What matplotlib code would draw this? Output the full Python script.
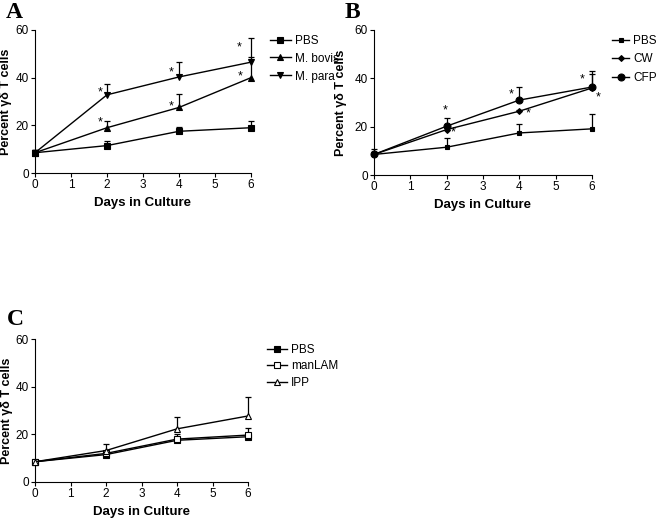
import matplotlib
matplotlib.use("Agg")
from matplotlib import pyplot as plt

plt.rcParams['font.family'] = ['Liberation Sans', 'DejaVu Sans']

days = [0, 2, 4, 6]

# panel A
a_pbs = [8.5, 11.5, 17.5, 19.0]
a_pbs_top = [9.5, 13.5, 19.3, 22.0]
a_bovis = [8.5, 19.0, 27.5, 40.0]
a_bovis_top = [9.5, 22.0, 33.0, 48.5]
a_para = [8.5, 32.8, 40.3, 46.5]
a_para_top = [9.5, 37.2, 46.7, 56.5]
a_star_x = [1.8, 1.8, 3.77, 3.77, 5.68, 5.71]
a_star_y = [33.8, 21.3, 42.0, 28.0, 52.6, 40.4]

# panel B
b_pbs = [8.5, 11.5, 17.4, 19.1]
b_pbs_top = [10.8, 15.4, 21.2, 25.4]
b_cw = [8.5, 18.8, 26.4, 36.0]
b_cw_top = [9.5, 19.5, 27.0, 41.7]
b_cfp = [8.5, 20.2, 31.0, 36.4]
b_cfp_top = [9.5, 23.6, 36.4, 43.0]
b_star_x = [1.96, 2.19, 3.78, 4.25, 5.73, 6.17]
b_star_y = [26.6, 17.7, 33.5, 25.3, 39.4, 32.3]

# panel C
c_pbs = [8.5, 11.5, 17.5, 19.0]
c_pbs_top = [9.3, 12.3, 19.0, 20.5]
c_lam = [8.5, 12.0, 18.0, 19.7]
c_lam_top = [9.3, 12.8, 20.0, 22.8]
c_ipp = [8.5, 13.2, 22.3, 27.7]
c_ipp_top = [9.3, 15.8, 27.2, 35.6]


def series(ax, y, top, marker, label, ms=4, mfc='black'):
    ax.plot(days, y, color='black', lw=1.0, marker=marker, ms=ms,
            mfc=mfc, mec='black', mew=0.8, label=label, clip_on=False, zorder=3)
    ax.vlines(days, y, top, color='black', lw=0.9, zorder=2, clip_on=False)
    ax.plot(days, top, ls='none', marker='_', ms=5, mew=0.9, color='black',
            zorder=2, clip_on=False)


def style(ax, letter, lx, ly, leg_x, hl, spacing=0.5, ylab_x=-0.105):
    ax.set_xlim(0, 6)
    ax.set_ylim(0, 60)
    ax.set_xticks(range(7))
    ax.set_yticks([0, 20, 40, 60])
    ax.spines['top'].set_visible(False)
    ax.spines['right'].set_visible(False)
    ax.tick_params(labelsize=8.5, length=3, width=0.8, pad=1.5)
    ax.set_xlabel('Days in Culture', fontsize=9.5, fontweight='bold', labelpad=4)
    ax.set_ylabel('Percent γδ T cells', fontsize=9, fontweight='bold')
    ax.yaxis.set_label_coords(ylab_x, 0.5)
    ax.legend(loc='upper left', bbox_to_anchor=(1 + leg_x, 1.0), frameon=False,
              fontsize=8.5, handlelength=hl, handletextpad=0.3, labelspacing=spacing,
              borderaxespad=0)
    fig.text(lx / 656, 1 - ly / 520, letter, fontsize=17, fontweight='bold',
             family='Liberation Serif', va='baseline', ha='left')


fig = plt.figure(figsize=(6.56, 5.2), dpi=100)

ax = fig.add_axes([35/656, 347/520, 216/656, 143/520])
series(ax, a_pbs, a_pbs_top, 's', 'PBS')
series(ax, a_bovis, a_bovis_top, '^', 'M. bovis')
series(ax, a_para, a_para_top, 'v', 'M. para')
for x, y in zip(a_star_x, a_star_y):
    ax.text(x, y, '*', ha='center', va='center', fontsize=9)
style(ax, 'A', 6, 18, 0.065, 1.8)

ax = fig.add_axes([374/656, 345/520, 218/656, 145/520])
series(ax, b_pbs, b_pbs_top, 's', 'PBS', ms=2.5)
series(ax, b_cw, b_cw_top, 'D', 'CW', ms=3)
series(ax, b_cfp, b_cfp_top, 'o', 'CFP', ms=5)
for x, y in zip(b_star_x, b_star_y):
    ax.text(x, y, '*', ha='center', va='center', fontsize=9)
style(ax, 'B', 345, 18, 0.069, 1.5, spacing=0.55, ylab_x=-0.125)

ax = fig.add_axes([35/656, 38/520, 213/656, 143/520])
series(ax, c_pbs, c_pbs_top, 's', 'PBS')
series(ax, c_lam, c_lam_top, 's', 'manLAM', mfc='white')
series(ax, c_ipp, c_ipp_top, '^', 'IPP', mfc='white')
style(ax, 'C', 7, 325, 0.066, 1.75, spacing=0.4)

fig.savefig('out.png', dpi=100)
